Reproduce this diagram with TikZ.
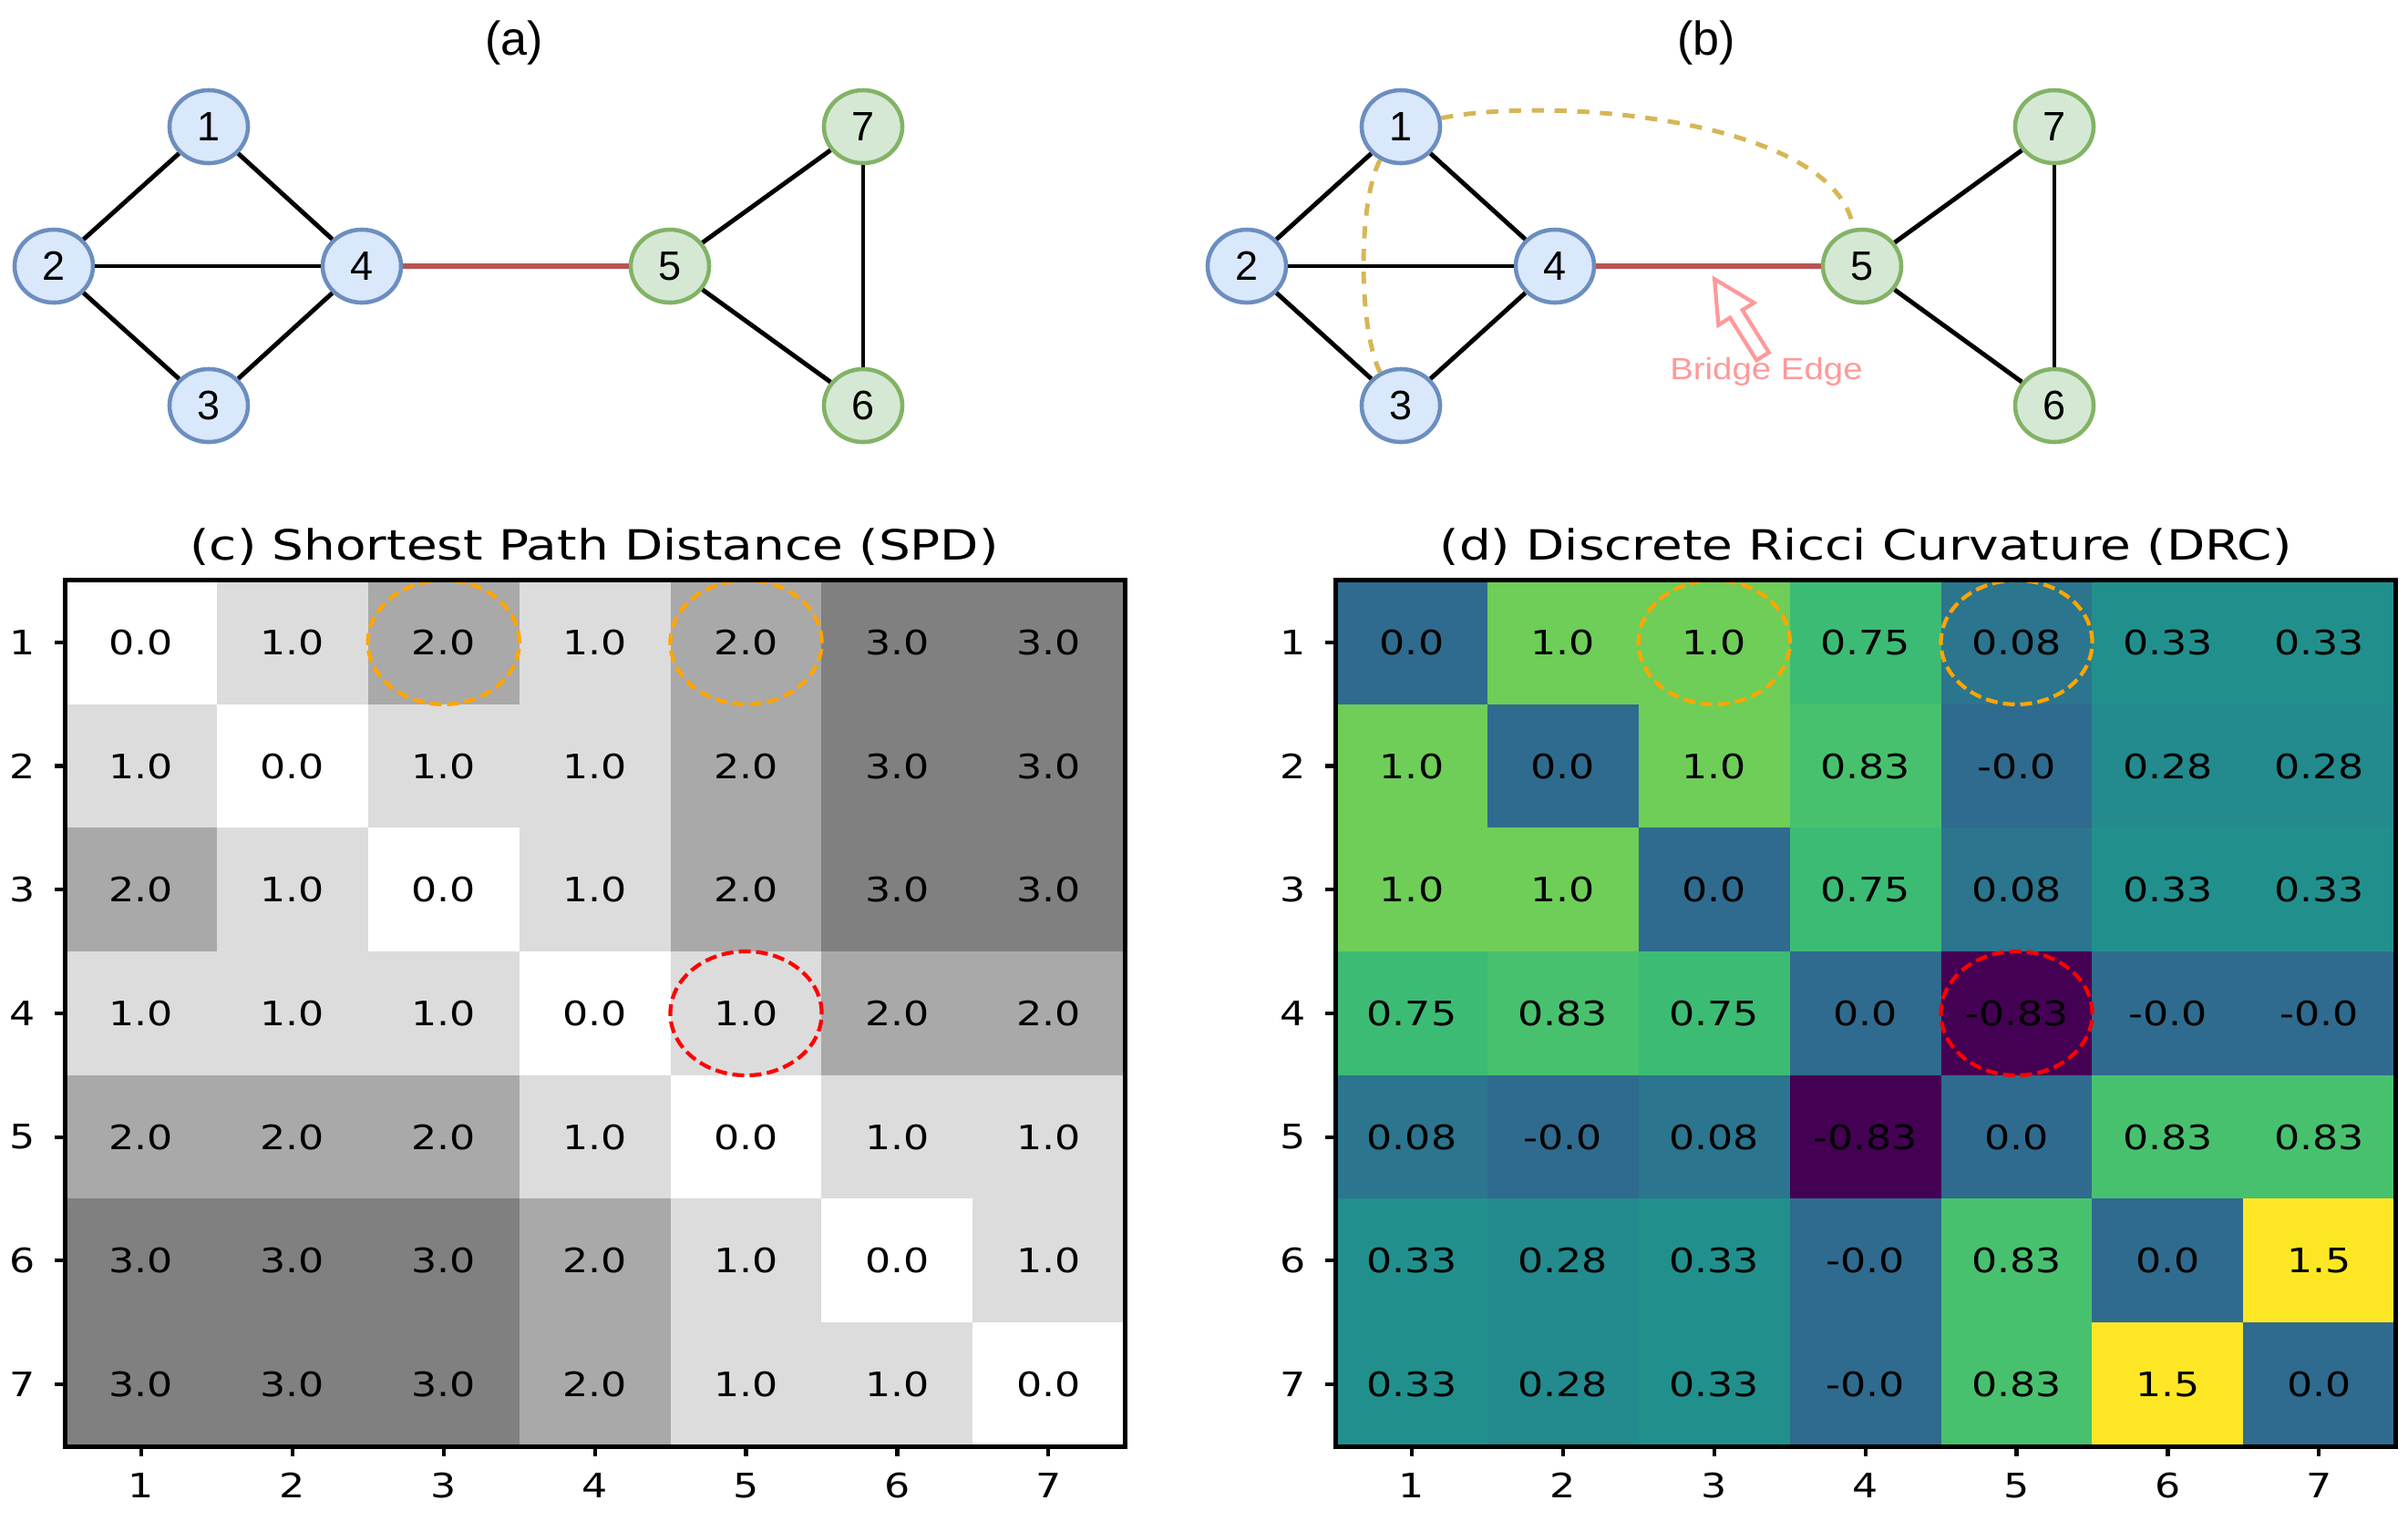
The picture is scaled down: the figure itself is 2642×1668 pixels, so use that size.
\documentclass[tikz,border=0pt]{standalone}
\usepackage{fontspec}
\usetikzlibrary{shapes.geometric}
\newfontfamily\drawfont{Liberation Sans}
\newfontfamily\notefont[FakeStretch=1.15]{Liberation Sans}
\newfontfamily\plotfont[FakeStretch=1.2]{DejaVu Sans}
\definecolor{bluefill}{HTML}{DAE8FC}
\definecolor{blueline}{HTML}{6C8EBF}
\definecolor{greenfill}{HTML}{D5E8D4}
\definecolor{greenline}{HTML}{82B366}
\definecolor{bridgered}{HTML}{B85450}
\definecolor{goldline}{HTML}{D6B656}
\definecolor{notepink}{HTML}{FF9999}
\definecolor{ringorange}{HTML}{FFA500}
\definecolor{ringred}{HTML}{FF0000}
% SPD greys
\definecolor{spd0}{HTML}{FFFFFF}
\definecolor{spd1}{HTML}{DCDCDC}
\definecolor{spd2}{HTML}{A9A9A9}
\definecolor{spd3}{HTML}{808080}
% DRC viridis steps
\definecolor{drc-n}{HTML}{440154}
\definecolor{drc-z}{HTML}{2F6B8E}
\definecolor{drc-s}{HTML}{2B758E}
\definecolor{drc-b}{HTML}{238A8D}
\definecolor{drc-m}{HTML}{21908D}
\definecolor{drc-v}{HTML}{3CBB75}
\definecolor{drc-e}{HTML}{48C16E}
\definecolor{drc-o}{HTML}{6ECE58}
\definecolor{drc-x}{HTML}{FDE725}

\begin{document}
\begin{tikzpicture}[x=0.01cm, y=-0.01cm,
        bnode/.style={ellipse, draw=blueline, fill=bluefill, line width=1.3pt, minimum width=0.86cm, minimum height=0.80cm, inner sep=0pt, font=\drawfont\fontsize{12.8}{15}\selectfont},
        gnode/.style={bnode, draw=greenline, fill=greenfill},
        link/.style={line width=1.4pt},
        bridge/.style={line width=1.5pt, draw=bridgered},
        shortcut/.style={line width=1.4pt, draw=goldline, dash pattern=on 3.8pt off 3.3pt},
        panel/.style={font=\drawfont\fontsize{14.8}{17}\selectfont},
        note/.style={text=notepink, font=\notefont\fontsize{9.5}{11}\selectfont},
        cell/.style={rectangle, minimum width=1.659cm, minimum height=1.357cm, inner sep=0pt, font=\plotfont\fontsize{10.5}{12}\selectfont},
        ticklab/.style={font=\plotfont\fontsize{10.5}{12}\selectfont},
        plottitle/.style={font=\plotfont\fontsize{13}{15}\selectfont},
        tick/.style={line width=1.2pt},
        frame/.style={line width=1.4pt},
        ring/.style={line width=1.2pt, draw=#1, dash pattern=on 3.7pt off 1.7pt}
    ]
        \useasboundingbox (0,0) rectangle (2642,1668);

        % (a) graph
        \node[panel] (ta) at (564,47) {(a)};
        \node[bnode] (a1) at (229,139) {1};
        \node[bnode] (a2) at (59,292) {2};
        \node[bnode] (a4) at (397,292) {4};
        \node[bnode] (a3) at (229,445) {3};
        \node[gnode] (a5) at (735,292) {5};
        \node[gnode] (a7) at (947,139) {7};
        \node[gnode] (a6) at (947,445) {6};

        \draw[link] (a1) -- (a2);
        \draw[link] (a1) -- (a4);
        \draw[link] (a2) -- (a4);
        \draw[link] (a2) -- (a3);
        \draw[link] (a3) -- (a4);
        \draw[bridge] (a4) -- (a5);
        \draw[link] (a5) -- (a7);
        \draw[link] (a5) -- (a6);
        \draw[link] (a7) -- (a6);

        % (b) graph
        \node[panel] (tb) at (1872,47) {(b)};
        \node[bnode] (b1) at (1537,139) {1};
        \node[bnode] (b2) at (1368,292) {2};
        \node[bnode] (b4) at (1706,292) {4};
        \node[bnode] (b3) at (1537,445) {3};
        \node[gnode] (b5) at (2043,292) {5};
        \node[gnode] (b7) at (2254,139) {7};
        \node[gnode] (b6) at (2254,445) {6};

        \draw[link] (b1) -- (b2);
        \draw[link] (b1) -- (b4);
        \draw[link] (b2) -- (b4);
        \draw[link] (b2) -- (b3);
        \draw[link] (b3) -- (b4);
        \draw[bridge] (b4) -- (b5);
        \draw[link] (b5) -- (b7);
        \draw[link] (b5) -- (b6);
        \draw[link] (b7) -- (b6);

        \draw[shortcut] (b1.12) .. controls (1700,105) and (2015,130) .. (b5.103);
        \draw[shortcut] (b1.238) .. controls (1490,220) and (1490,360) .. (b3.122);

        % bridge note
        \draw[notepink, fill=white, line width=1.2pt] (1940.8,386.8) -- (1911.7,340.2) -- (1924.4,332.2) -- (1881.1,306.2)
            -- (1885.4,356.6) -- (1898.1,348.6) -- (1927.2,395.2) -- cycle;
        \node[note] (bridgelab) at (1938,408) {Bridge Edge};

        % (c) SPD heatmap
        \node[plottitle] (tc) at (652,600) {(c) Shortest Path Distance (SPD)};
        \foreach \vals [count=\i] in {{0,1,2,1,2,3,3},{1,0,1,1,2,3,3},{2,1,0,1,2,3,3},{1,1,1,0,1,2,2},
                                      {2,2,2,1,0,1,1},{3,3,3,2,1,0,1},{3,3,3,2,1,1,0}} {
            \foreach \t [count=\j] in \vals {
                \node[cell, fill=spd\t] (spd-\i-\j) at ({72+(\j-0.5)*165.9},{637+(\i-0.5)*135.7}) {\t.0};
            }
        }
        \draw[ring=ringorange] (spd-1-3) ellipse (0.83cm and 0.68cm);
        \draw[ring=ringorange] (spd-1-5) ellipse (0.83cm and 0.68cm);
        \draw[ring=ringred] (spd-4-5) ellipse (0.83cm and 0.68cm);
        \draw[frame] (spd-1-1.north west) rectangle (spd-7-7.south east);
        \foreach \k in {1,...,7} {
            \draw[tick] ({72+(\k-0.5)*165.9},1587) -- ++(0,11);
            \node[ticklab] (spd-x\k) at ({72+(\k-0.5)*165.9},1630) {\k};
            \draw[tick] (72,{637+(\k-0.5)*135.7}) -- ++(-12,0);
            \node[ticklab] (spd-y\k) at (25,{637+(\k-0.5)*135.7}) {\k};
        }

        % (d) DRC heatmap
        \node[plottitle] (td) at (2047,600) {(d) Discrete Ricci Curvature (DRC)};
        \foreach \vals [count=\i] in {
            {z/0.0, o/1.0, o/1.0, v/0.75, s/0.08, m/0.33, m/0.33},
            {o/1.0, z/0.0, o/1.0, e/0.83, z/-0.0, b/0.28, b/0.28},
            {o/1.0, o/1.0, z/0.0, v/0.75, s/0.08, m/0.33, m/0.33},
            {v/0.75, e/0.83, v/0.75, z/0.0, n/-0.83, z/-0.0, z/-0.0},
            {s/0.08, z/-0.0, s/0.08, n/-0.83, z/0.0, e/0.83, e/0.83},
            {m/0.33, b/0.28, m/0.33, z/-0.0, e/0.83, z/0.0, x/1.5},
            {m/0.33, b/0.28, m/0.33, z/-0.0, e/0.83, x/1.5, z/0.0}} {
            \foreach \cc/\t [count=\j] in \vals {
                \node[cell, fill=drc-\cc] (drc-\i-\j) at ({1466+(\j-0.5)*165.9},{637+(\i-0.5)*135.7}) {\t};
            }
        }
        \draw[ring=ringorange] (drc-1-3) ellipse (0.83cm and 0.68cm);
        \draw[ring=ringorange] (drc-1-5) ellipse (0.83cm and 0.68cm);
        \draw[ring=ringred] (drc-4-5) ellipse (0.83cm and 0.68cm);
        \draw[frame] (drc-1-1.north west) rectangle (drc-7-7.south east);
        \foreach \k in {1,...,7} {
            \draw[tick] ({1466+(\k-0.5)*165.9},1587) -- ++(0,11);
            \node[ticklab] (drc-x\k) at ({1466+(\k-0.5)*165.9},1630) {\k};
            \draw[tick] (1466,{637+(\k-0.5)*135.7}) -- ++(-12,0);
            \node[ticklab] (drc-y\k) at (1419,{637+(\k-0.5)*135.7}) {\k};
        }
    \end{tikzpicture}
\end{document}
